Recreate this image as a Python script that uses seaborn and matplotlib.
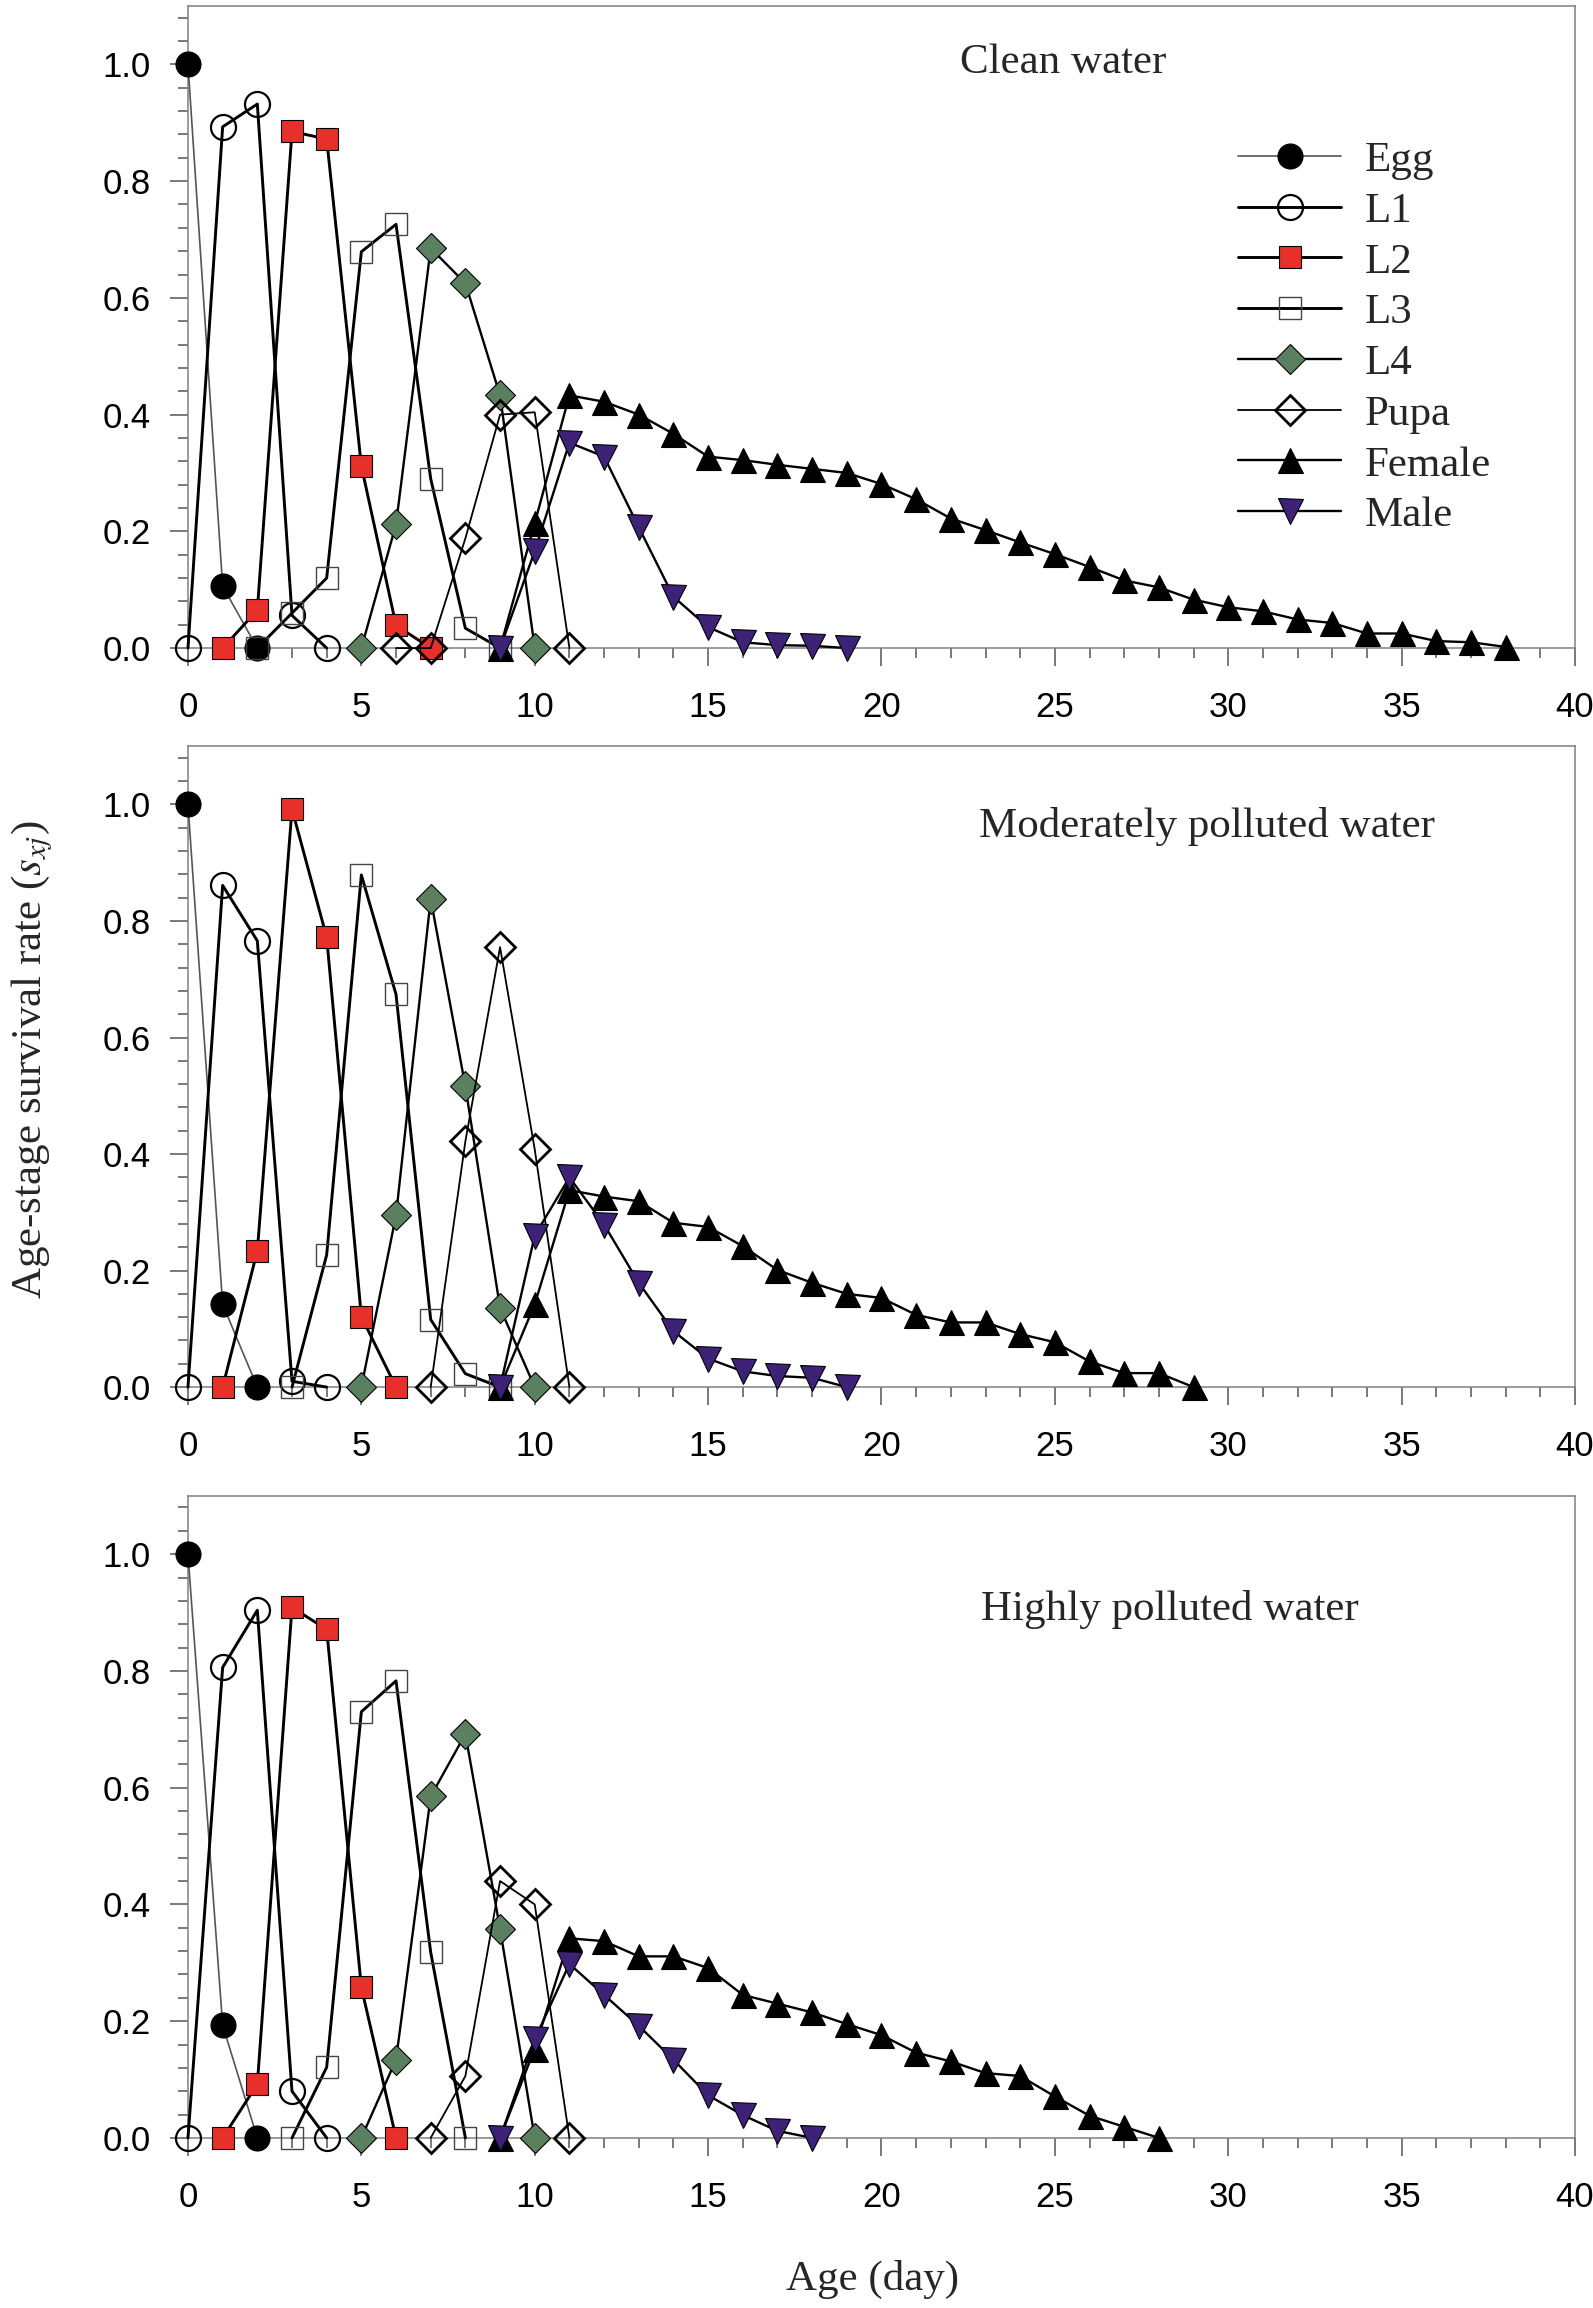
import matplotlib
matplotlib.use("Agg")
import matplotlib.pyplot as plt
import matplotlib.transforms as mtransforms
from matplotlib.ticker import MultipleLocator
import pandas as pd
import seaborn as sns

# stage survival curves; each list starts at the given day
stages = ["Egg", "L1", "L2", "L3", "L4", "Pupa", "Female", "Male"]
start_days = [0, 0, 1, 2, 5, 6, 9, 9]
start_days_polluted = [0, 0, 1, 3, 5, 7, 9, 9]

clean_egg = [1.0, 0.106, 0.0]
clean_l1 = [0.0, 0.893, 0.932, 0.056, 0.0]
clean_l2 = [0.0, 0.065, 0.885, 0.872, 0.312, 0.039, 0.0]
clean_l3 = [0.0, 0.06, 0.12, 0.679, 0.726, 0.29, 0.034, 0.0]
clean_l4 = [0.0, 0.212, 0.685, 0.625, 0.433, 0.0]
clean_pupa = [0.0, 0.0, 0.188, 0.40, 0.404, 0.0]
clean_female = [0.0, 0.214, 0.433, 0.422, 0.40, 0.367, 0.328, 0.322, 0.314, 0.307,
                0.30, 0.281, 0.255, 0.222, 0.202, 0.181, 0.161, 0.139, 0.116, 0.104,
                0.083, 0.070, 0.063, 0.049, 0.043, 0.025, 0.025, 0.012, 0.010, 0.002]
clean_male = [0.0, 0.166, 0.352, 0.328, 0.207, 0.088, 0.036, 0.01, 0.005, 0.004, 0.0]

moderate_egg = [1.0, 0.142, 0.0]
moderate_l1 = [0.0, 0.861, 0.766, 0.01, 0.0]
moderate_l2 = [0.0, 0.234, 0.992, 0.772, 0.121, 0.0]
moderate_l3 = [0.0, 0.227, 0.879, 0.674, 0.116, 0.023, 0.0]
moderate_l4 = [0.0, 0.295, 0.838, 0.516, 0.136, 0.0]
moderate_pupa = [0.0, 0.422, 0.755, 0.408, 0.0]
moderate_female = [0.0, 0.142, 0.338, 0.327, 0.319, 0.282, 0.275, 0.242, 0.201, 0.179,
                   0.160, 0.153, 0.124, 0.111, 0.111, 0.091, 0.077, 0.044, 0.024, 0.024, 0.0]
moderate_male = [0.0, 0.26, 0.36, 0.279, 0.179, 0.096, 0.049, 0.027, 0.019, 0.016, 0.0]

high_egg = [1.0, 0.193, 0.0]
high_l1 = [0.0, 0.806, 0.904, 0.08, 0.0]
high_l2 = [0.0, 0.092, 0.909, 0.871, 0.258, 0.0]
high_l3 = [0.0, 0.121, 0.73, 0.783, 0.318, 0.0]
high_l4 = [0.0, 0.134, 0.585, 0.692, 0.358, 0.0]
high_pupa = [0.0, 0.106, 0.44, 0.40, 0.0]
high_female = [0.0, 0.153, 0.342, 0.337, 0.311, 0.311, 0.291, 0.245, 0.230, 0.215,
               0.195, 0.176, 0.146, 0.131, 0.111, 0.106, 0.071, 0.038, 0.019, 0.0]
high_male = [0.0, 0.169, 0.298, 0.245, 0.192, 0.134, 0.073, 0.039, 0.012, 0.0]

panel_titles = ["Clean water", "Moderately polluted water", "Highly polluted water"]
panels = [
    (start_days, [clean_egg, clean_l1, clean_l2, clean_l3, clean_l4, clean_pupa, clean_female, clean_male]),
    (start_days_polluted, [moderate_egg, moderate_l1, moderate_l2, moderate_l3, moderate_l4,
                           moderate_pupa, moderate_female, moderate_male]),
    (start_days_polluted, [high_egg, high_l1, high_l2, high_l3, high_l4, high_pupa, high_female, high_male]),
]

# marker / line style per stage
styles = {
    "Egg":    dict(marker="o", ms=18, mfc="black", mec="black", mew=0.8, color="#555555", lw=1.2),
    "L1":     dict(marker="o", ms=18, mfc="none", mec="black", mew=1.6, color="black", lw=2.1),
    "L2":     dict(marker="s", ms=15.5, mfc="#e8302a", mec="black", mew=0.8, color="black", lw=2.1),
    "L3":     dict(marker="s", ms=15.5, mfc="none", mec="#444444", mew=1.0, color="black", lw=2.1),
    "L4":     dict(marker="D", ms=15, mfc="#5b8060", mec="black", mew=0.8, color="black", lw=1.7),
    "Pupa":   dict(marker="D", ms=15, mfc="none", mec="black", mew=2.0, color="black", lw=1.3),
    "Female": dict(marker="^", ms=18, mfc="black", mec="black", mew=0.8, color="black", lw=1.7),
    "Male":   dict(marker="v", ms=18, mfc="#3d2278", mec="black", mew=0.8, color="black", lw=1.7),
}

title_pos = [(0.631, 1.003), (0.735, 0.962), (0.708, 0.906)]
axes_rect = [
    [0.118, 0.7192, 0.8707, 0.2782],
    [0.118, 0.3990, 0.8707, 0.2777],
    [0.118, 0.0737, 0.8707, 0.2782],
]

sns.set_style("ticks")
plt.rcParams["mathtext.fontset"] = "stix"
serif = ["Liberation Serif", "DejaVu Serif"]
sans = ["Liberation Sans", "DejaVu Sans"]

fig = plt.figure(figsize=(15.93, 23.08), dpi=100)

for i, (starts, series) in enumerate(panels):
    ax = fig.add_axes(axes_rect[i])
    for name, start, vals in zip(stages, starts, series):
        df = pd.DataFrame({"day": [start + k for k in range(len(vals))], "sxj": vals})
        st = styles[name]
        sns.lineplot(data=df, x="day", y="sxj", ax=ax, marker=st["marker"],
                     markersize=st["ms"], markerfacecolor=st["mfc"],
                     markeredgecolor=st["mec"], markeredgewidth=st["mew"],
                     color=st["color"], linewidth=st["lw"], label=name,
                     clip_on=False, zorder=3)

    ax.set_xlim(0, 40)
    ax.set_ylim(0, 1.1)
    ax.xaxis.set_major_locator(MultipleLocator(5))
    ax.xaxis.set_minor_locator(MultipleLocator(1))
    ax.yaxis.set_major_locator(MultipleLocator(0.2))
    ax.yaxis.set_minor_locator(MultipleLocator(0.04))
    ax.set_yticks([0, 0.2, 0.4, 0.6, 0.8, 1.0])
    ax.set_yticklabels(["0.0", "0.2", "0.4", "0.6", "0.8", "1.0"])
    ax.tick_params(axis="both", which="major", direction="out", length=13, width=1.1,
                   color="#555555", labelsize=25, labelcolor="black")
    ax.tick_params(axis="both", which="minor", direction="out", length=7, width=1.1,
                   color="#555555")
    ax.tick_params(axis="x", which="major", pad=18)
    ax.tick_params(axis="y", which="major", pad=14)
    for lab in ax.get_xticklabels() + ax.get_yticklabels():
        lab.set_family(sans)
    for sp in ax.spines.values():
        sp.set_visible(True)
        sp.set_color("#808080")
        sp.set_linewidth(1.1)
    ax.set_xlabel("")
    ax.set_ylabel("")

    trans = mtransforms.blended_transform_factory(ax.transAxes, ax.transData)
    tx, ty = title_pos[i]
    ax.text(tx, ty, panel_titles[i], transform=trans, ha="center", va="center",
            fontsize=31, family=serif)

    if i == 0:
        ax.legend(loc="upper left", bbox_to_anchor=(0.757, 0.79), frameon=False,
                  prop={"family": serif, "size": 31}, handlelength=2.4,
                  handletextpad=0.55, labelspacing=0.27, borderpad=0, borderaxespad=0)
    else:
        ax.get_legend().remove()

fig.text(0.020, 1 - 1060 / 2308, r"Age-stage survival rate ($s_{xj}$)", rotation=90,
         ha="center", va="center", fontsize=31, family=serif)
fig.text(0.548, 1 - 2279 / 2308, "Age (day)", ha="center", va="center",
         fontsize=31, family=serif)

fig.savefig("out.png", dpi=100, facecolor="white")
